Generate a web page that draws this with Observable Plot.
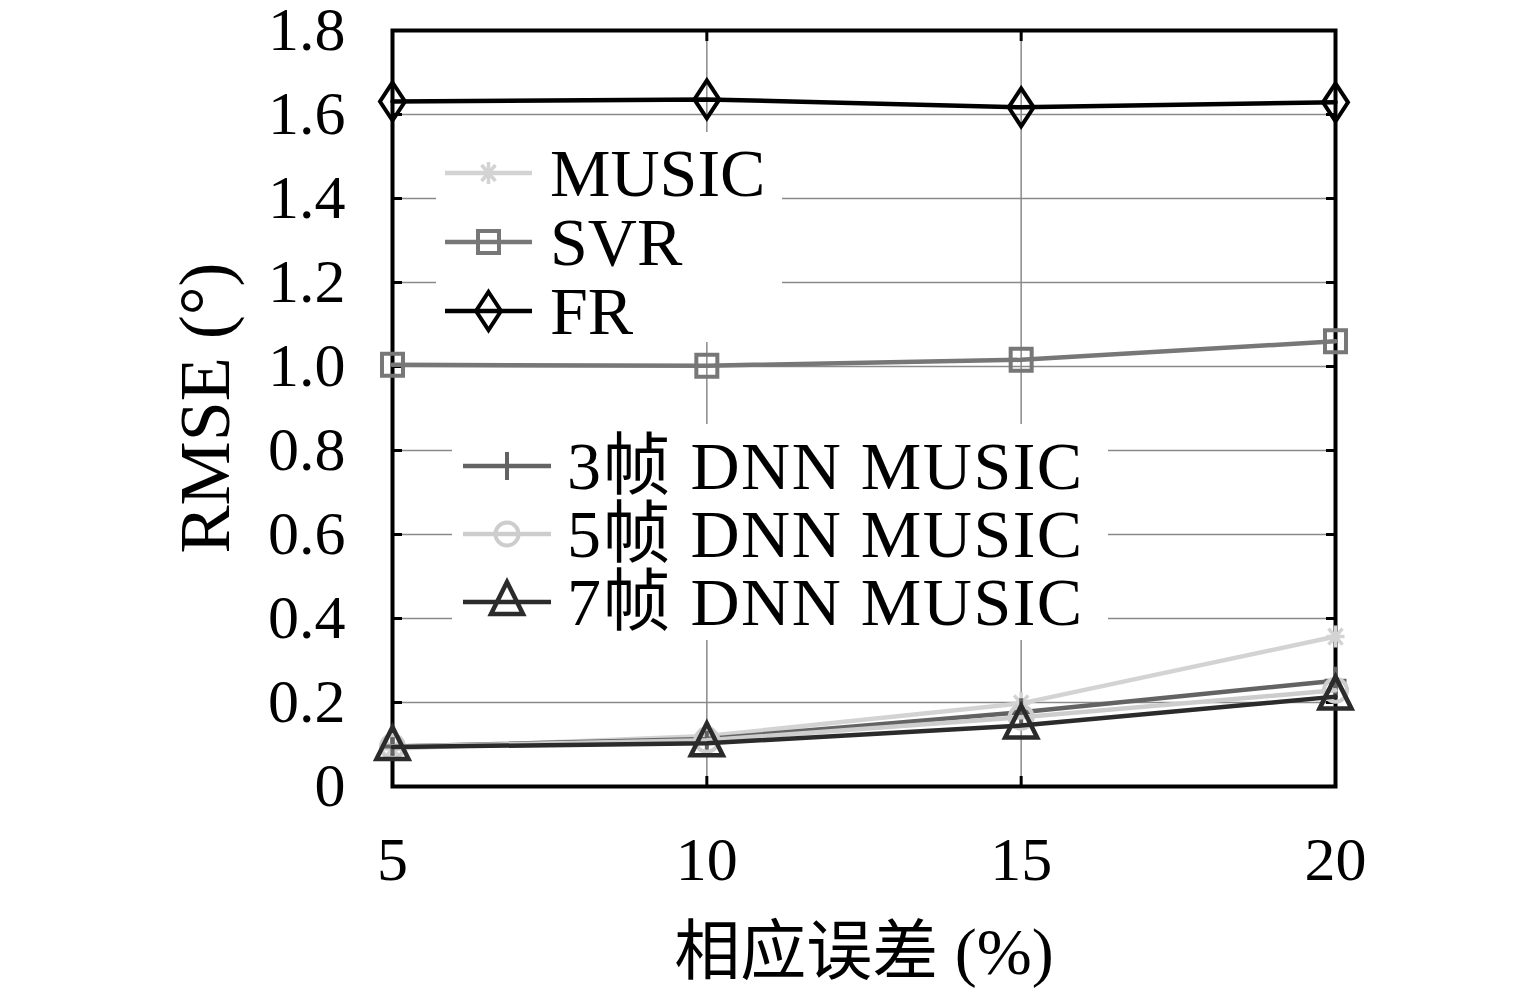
<!DOCTYPE html>
<html>
<head>
<meta charset="utf-8">
<script src="https://cdn.jsdelivr.net/npm/d3@7"></script>
<script src="https://cdn.jsdelivr.net/npm/@observablehq/plot@0.6"></script>
<style>
  html, body { margin: 0; padding: 0; background: white; }
  #wrap { position: relative; width: 1535px; height: 999px; overflow: hidden;
          font-family: 'Liberation Serif', 'Noto Sans CJK SC', serif; color: black; }
  .lab { position: absolute; white-space: nowrap; line-height: 1; }
  .legend { position: absolute; background: white; }
  .row { position: absolute; left: 0; display: flex; align-items: center; white-space: nowrap; }
  .row span { font-size: 68px; display: inline-block; line-height: 60px; height: 60px; }
</style>
</head>
<body>
<div id="wrap"></div>
<script>
// ---- data ----
const errorPct = [5, 10, 15, 20];
const music = [0.090, 0.120, 0.198, 0.357];
const svr   = [1.004, 1.002, 1.016, 1.060];
const fr    = [1.631, 1.636, 1.617, 1.629];
const dnn3  = [0.095, 0.113, 0.177, 0.252];
const dnn5  = [0.095, 0.110, 0.165, 0.229];
const dnn7  = [0.094, 0.103, 0.145, 0.214];
const xTicks = [5, 10, 15, 20];
const yTicks = [0, 0.2, 0.4, 0.6, 0.8, 1.0, 1.2, 1.4, 1.6, 1.8];
const yTickLabels = ["0", "0.2", "0.4", "0.6", "0.8", "1.0", "1.2", "1.4", "1.6", "1.8"];
const seriesNames = ["MUSIC", "SVR", "FR", "3帧 DNN MUSIC", "5帧 DNN MUSIC", "7帧 DNN MUSIC"];
const xLabel = "相应误差 (%)";
const yLabel = "RMSE (°)";

// ---- marker shapes ----
const asterisk = {draw(c) {
  c.moveTo(-9, 0); c.lineTo(9, 0);
  c.moveTo(0, -11); c.lineTo(0, 11);
  c.moveTo(-7, -8); c.lineTo(7, 8);
  c.moveTo(-7, 8); c.lineTo(7, -8);
}};
const square = {draw(c) { c.rect(-10.5, -11, 21, 22); }};
const diamond = {draw(c) {
  c.moveTo(0, -19); c.lineTo(12.5, 0); c.lineTo(0, 19); c.lineTo(-12.5, 0); c.closePath();
}};
const plus = {draw(c) {
  c.moveTo(-11, 0); c.lineTo(11, 0);
  c.moveTo(0, -14); c.lineTo(0, 14);
}};
const circle = {draw(c) { c.moveTo(11.5, 0); c.arc(0, 0, 11.5, 0, 2 * Math.PI); c.closePath(); }};
const triangle = {draw(c) {
  c.moveTo(0, -20); c.lineTo(16, 12); c.lineTo(-16, 12); c.closePath();
}};

const series = [
  {name: seriesNames[0], values: music, color: "#d3d3d3", sym: asterisk, sw: 3.5},
  {name: seriesNames[1], values: svr,   color: "#777777", sym: square,   sw: 4},
  {name: seriesNames[2], values: fr,    color: "#000000", sym: diamond,  sw: 4},
  {name: seriesNames[3], values: dnn3,  color: "#636363", sym: plus,     sw: 4},
  {name: seriesNames[4], values: dnn5,  color: "#cdcdcd", sym: circle,   sw: 4},
  {name: seriesNames[5], values: dnn7,  color: "#2b2b2b", sym: triangle, sw: 4.5}
];

const rows = series.flatMap(s => errorPct.map((x, i) => ({series: s.name, x, y: s.values[i]})));

const dataMarks = series.flatMap(s => {
  const d = rows.filter(r => r.series === s.name);
  return [
    Plot.line(d, {x: "x", y: "y", stroke: s.color, strokeWidth: 4.5}),
    Plot.dot(d, {x: "x", y: "y", symbol: s.sym, stroke: s.color, fill: "none", strokeWidth: s.sw})
  ];
});

const fmtY = d => yTickLabels[yTicks.findIndex(t => Math.abs(t - d) < 1e-9)];

const chart = Plot.plot({
  width: 1535,
  height: 999,
  marginLeft: 392,
  marginRight: 200,
  marginTop: 30,
  marginBottom: 213,
  style: {fontFamily: "'Liberation Serif', 'Noto Sans CJK SC', serif", fontSize: "62px", background: "white", color: "black", overflow: "visible"},
  x: {domain: [5, 20]},
  y: {domain: [0, 1.8]},
  marks: [
    Plot.gridX({ticks: xTicks, stroke: "#8a8a8a", strokeOpacity: 1, strokeWidth: 1.5}),
    Plot.gridY({ticks: yTicks, stroke: "#8a8a8a", strokeOpacity: 1, strokeWidth: 1.5}),
    Plot.frame({stroke: "black", strokeWidth: 4}),
    Plot.axisX({ticks: xTicks, tickSize: -10, tickPadding: 59, strokeWidth: 3, label: null, fontSize: 62}),
    Plot.axisX({anchor: "top", ticks: xTicks, tickSize: -10, strokeWidth: 3, tickFormat: () => "", label: null}),
    Plot.axisY({ticks: yTicks, tickSize: -10, tickPadding: 57, strokeWidth: 3, tickFormat: fmtY, label: null, fontSize: 62}),
    Plot.axisY({anchor: "right", ticks: yTicks, tickSize: -10, strokeWidth: 3, tickFormat: () => "", label: null}),
    ...dataMarks
  ]
});

const wrap = document.getElementById("wrap");
wrap.appendChild(chart);

// axis titles
const xl = document.createElement("div");
xl.className = "lab";
xl.textContent = xLabel;
xl.style.cssText = "left:864px; top:952px; font-size:66px; transform: translate(-50%,-50%);";
wrap.appendChild(xl);

const yl = document.createElement("div");
yl.className = "lab";
yl.textContent = yLabel;
yl.style.cssText = "left:205px; top:408px; font-size:72px; transform: translate(-50%,-50%) rotate(-90deg);";
wrap.appendChild(yl);

// legends (inside the plot)
function swatch(s, w) {
  const p = d3.path(); s.sym.draw(p, 0);
  const m = w / 2;
  return `<svg width="${w}" height="44" style="overflow:visible;flex:none">
    <line x1="0" x2="${w}" y1="22" y2="22" stroke="${s.color}" stroke-width="4.5"/>
    <path transform="translate(${m},22)" d="${p.toString()}" fill="none" stroke="${s.color}" stroke-width="${s.sw}"/>
  </svg>`;
}
function legend(items, box) {
  const lg = document.createElement("div");
  lg.className = "legend";
  lg.style.cssText = `left:${box.left}px; top:${box.top}px; width:${box.width}px; height:${box.height}px;`;
  items.forEach((s, i) => {
    const r = document.createElement("div");
    r.className = "row";
    r.style.cssText = `left:${box.padL}px; top:${box.firstY - box.top + i * box.step - 32}px; height:64px;`;
    r.innerHTML = swatch(s, box.sw) + `<span style="margin-left:${box.gap}px; letter-spacing:${box.ls}px">${s.name}</span>`;
    lg.appendChild(r);
  });
  wrap.appendChild(lg);
}
legend(series.slice(0, 3), {left: 436, top: 132, width: 346, height: 210, padL: 9, firstY: 173, step: 69, sw: 87, gap: 18, ls: 0});
legend(series.slice(3), {left: 452, top: 424, width: 656, height: 216, padL: 11, firstY: 466, step: 68, sw: 88, gap: 16, ls: 1.5});
</script>
</body>
</html>
